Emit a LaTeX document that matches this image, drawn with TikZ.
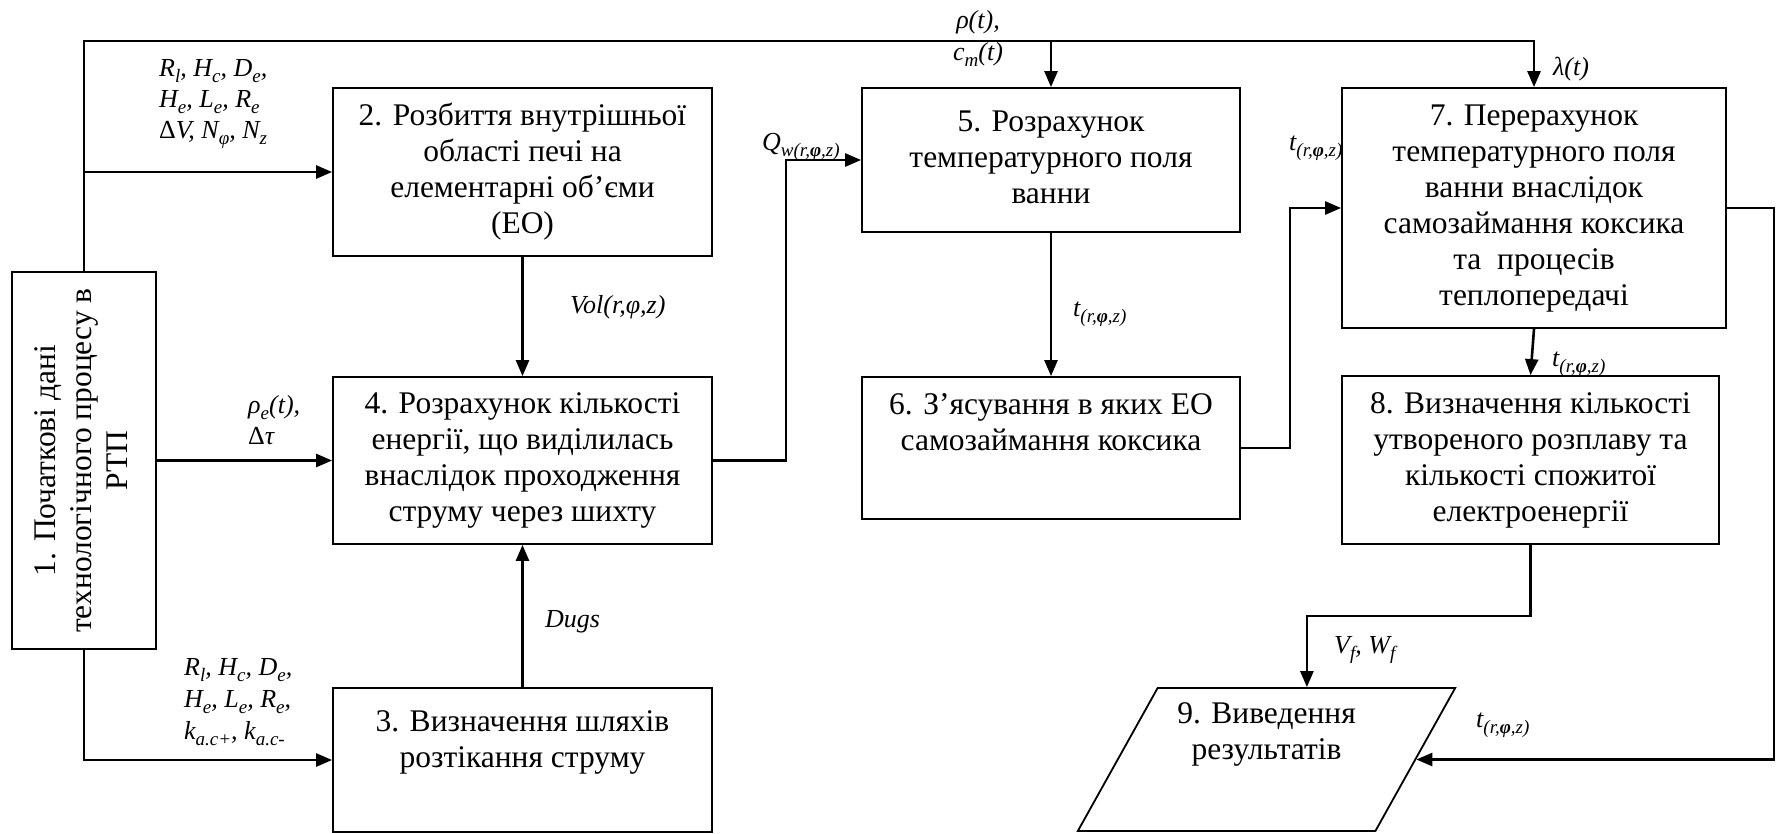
\documentclass[tikz,border=0pt]{standalone}
\usepackage{fontspec}
\setmainfont{Liberation Serif}
\usetikzlibrary{arrows.meta,shapes.geometric}

% lowered index
\newcommand\sbs[1]{\raisebox{-0.24em}{\fontsize{19}{19}\selectfont #1}}
% centred block text with uniform line pitch
\newcommand\bt[1]{\begin{tabular}{@{}c@{}}#1\end{tabular}}
% label text, baseline on the first line
\newcommand\lt[1]{\begin{tabular}[t]{@{}l@{}}#1\end{tabular}}
\newcommand\ct[1]{\begin{tabular}[t]{@{}c@{}}#1\end{tabular}}
% temperature field index
\newcommand\tcoord{\textit{t}\sbs{\textit{(r,\textbf{φ},z)}}}

\begin{document}
\begin{tikzpicture}[x=1pt,y=-1pt,
  blk/.style={draw, line width=1.8pt, rectangle, inner sep=0pt,
              font=\fontsize{31.5}{36}\selectfont},
  conn/.style={line width=2.6pt, -{Triangle[length=16pt,width=13pt]}},
  lbl/.style={inner sep=0pt, anchor=base west,
              font=\fontsize{26}{31}\selectfont\itshape}]
\useasboundingbox (0,0) rectangle (1782,833);

% blocks
\node[blk, minimum width=144pt, minimum height=377pt] (b1) at (84,460.5)
  {\rotatebox{90}{\bt{1. Початкові дані\\технологічного процесу в\\РТП}}};
\node[blk, minimum width=379pt, minimum height=168pt] (b2) at (522.5,172)
  {\bt{2. Розбиття внутрішньої\\області печі на\\елементарні об’єми\\(ЕО)}};
\node[blk, minimum width=379pt, minimum height=144pt] (b3) at (522.5,760)
  {\bt{3. Визначення шляхів\\розтікання струму\\ \mbox{}}};
\node[blk, minimum width=379pt, minimum height=167pt] (b4) at (522.5,460.5)
  {\bt{4. Розрахунок кількості\\енергії, що виділилась\\внаслідок проходження\\струму через шихту}};
\node[blk, minimum width=378pt, minimum height=144pt] (b5) at (1051,160)
  {\bt{5. Розрахунок\\температурного поля\\ванни}};
\node[blk, minimum width=378pt, minimum height=142pt] (b6) at (1051,448)
  {\bt{6. З’ясування в яких ЕО\\самозаймання коксика\\[10pt] \mbox{}}};
\node[blk, minimum width=384pt, minimum height=240pt] (b7) at (1534,208)
  {\bt{7. Перерахунок\\температурного поля\\ванни внаслідок\\самозаймання коксика\\та\ \ процесів\\теплопередачі}};
\node[blk, minimum width=377pt, minimum height=168pt] (b8) at (1530.5,460)
  {\bt{8. Визначення кількості\\утвореного розплаву та\\кількості спожитої\\електроенергії}};
\node[blk, trapezium, trapezium left angle=62, trapezium right angle=118,
      trapezium stretches=true, minimum width=379pt, minimum height=143pt]
  (b9) at (1266.5,759.5)
  {\bt{9. Виведення\\результатів\\[15pt] \mbox{}}};

% connector labels
\node[lbl] (lA) at (159,76)
  {\lt{R\sbs{l}, H\sbs{c}, D\sbs{e},\\H\sbs{e}, L\sbs{e}, R\sbs{e}\\{\upshape Δ}V, N\sbs{φ}, N\sbs{z}}};
\node[lbl, anchor=base] (lP) at (978,28) {\ct{ρ(t),\\[1pt]c\sbs{m}(t)}};
\node[lbl] (lL) at (1553,75) {λ(t)};
\node[lbl] (lV) at (570,313) {Vol(r,φ,z)};
\node[lbl] (lR) at (248,413) {\lt{ρ\sbs{e}(t),\\{\upshape Δ}τ}};
\node[lbl] (lD) at (545,627) {Dugs};
\node[lbl] (lB) at (184,675)
  {\lt{R\sbs{l}, H\sbs{c}, D\sbs{e},\\[1pt]H\sbs{e}, L\sbs{e}, R\sbs{e},\\[1pt]k\sbs{a.c+}, k\sbs{a.c-}}};
\node[lbl] (lQ) at (762,150) {Q\sbs{w(r,\textbf{φ},z)}};
\node[lbl] (lt1) at (1073,316) {\tcoord};
\node[lbl] (lt2) at (1289,150) {\tcoord};
\node[lbl] (lt3) at (1552,366) {\tcoord};
\node[lbl] (lt4) at (1476,727) {\tcoord};
\node[lbl] (lF) at (1334,653) {V\sbs{f}, W\sbs{f}};

% routing helpers
\coordinate (bus) at (0,41);
\coordinate (qx) at (786,0);
\coordinate (sx) at (1290,0);
\coordinate (rx) at (1774,0);
\coordinate (ox) at (0,616);

% connectors
\draw[conn] (b1.north) |- (b7.north |- bus) -- (b7.north);
\draw[conn] (b5.north |- bus) -- (b5.north);
\draw[conn] (b1.north |- b2.west) -- (b2.west);
\draw[conn] (b1.east) -- (b4.west);
\draw[conn] (b1.south) |- (b3.west);
\draw[conn] (b2.south) -- (b4.north);
\draw[conn] (b3.north) -- (b4.south);
\draw[conn] (b4.east) -- (b4.east -| qx) |- (b5.west);
\draw[conn] (b5.south) -- (b6.north);
\draw[conn] (b6.east) -- (b6.east -| sx) |- (b7.west);
\draw[conn] (b7.south) -- (b8.north);
\draw[conn] (b8.south) -- (b8.south |- ox) -| (b9.top side);
\draw[conn] (b7.east) -- (b7.east -| rx) |- (b9.right side);
\end{tikzpicture}
\end{document}
